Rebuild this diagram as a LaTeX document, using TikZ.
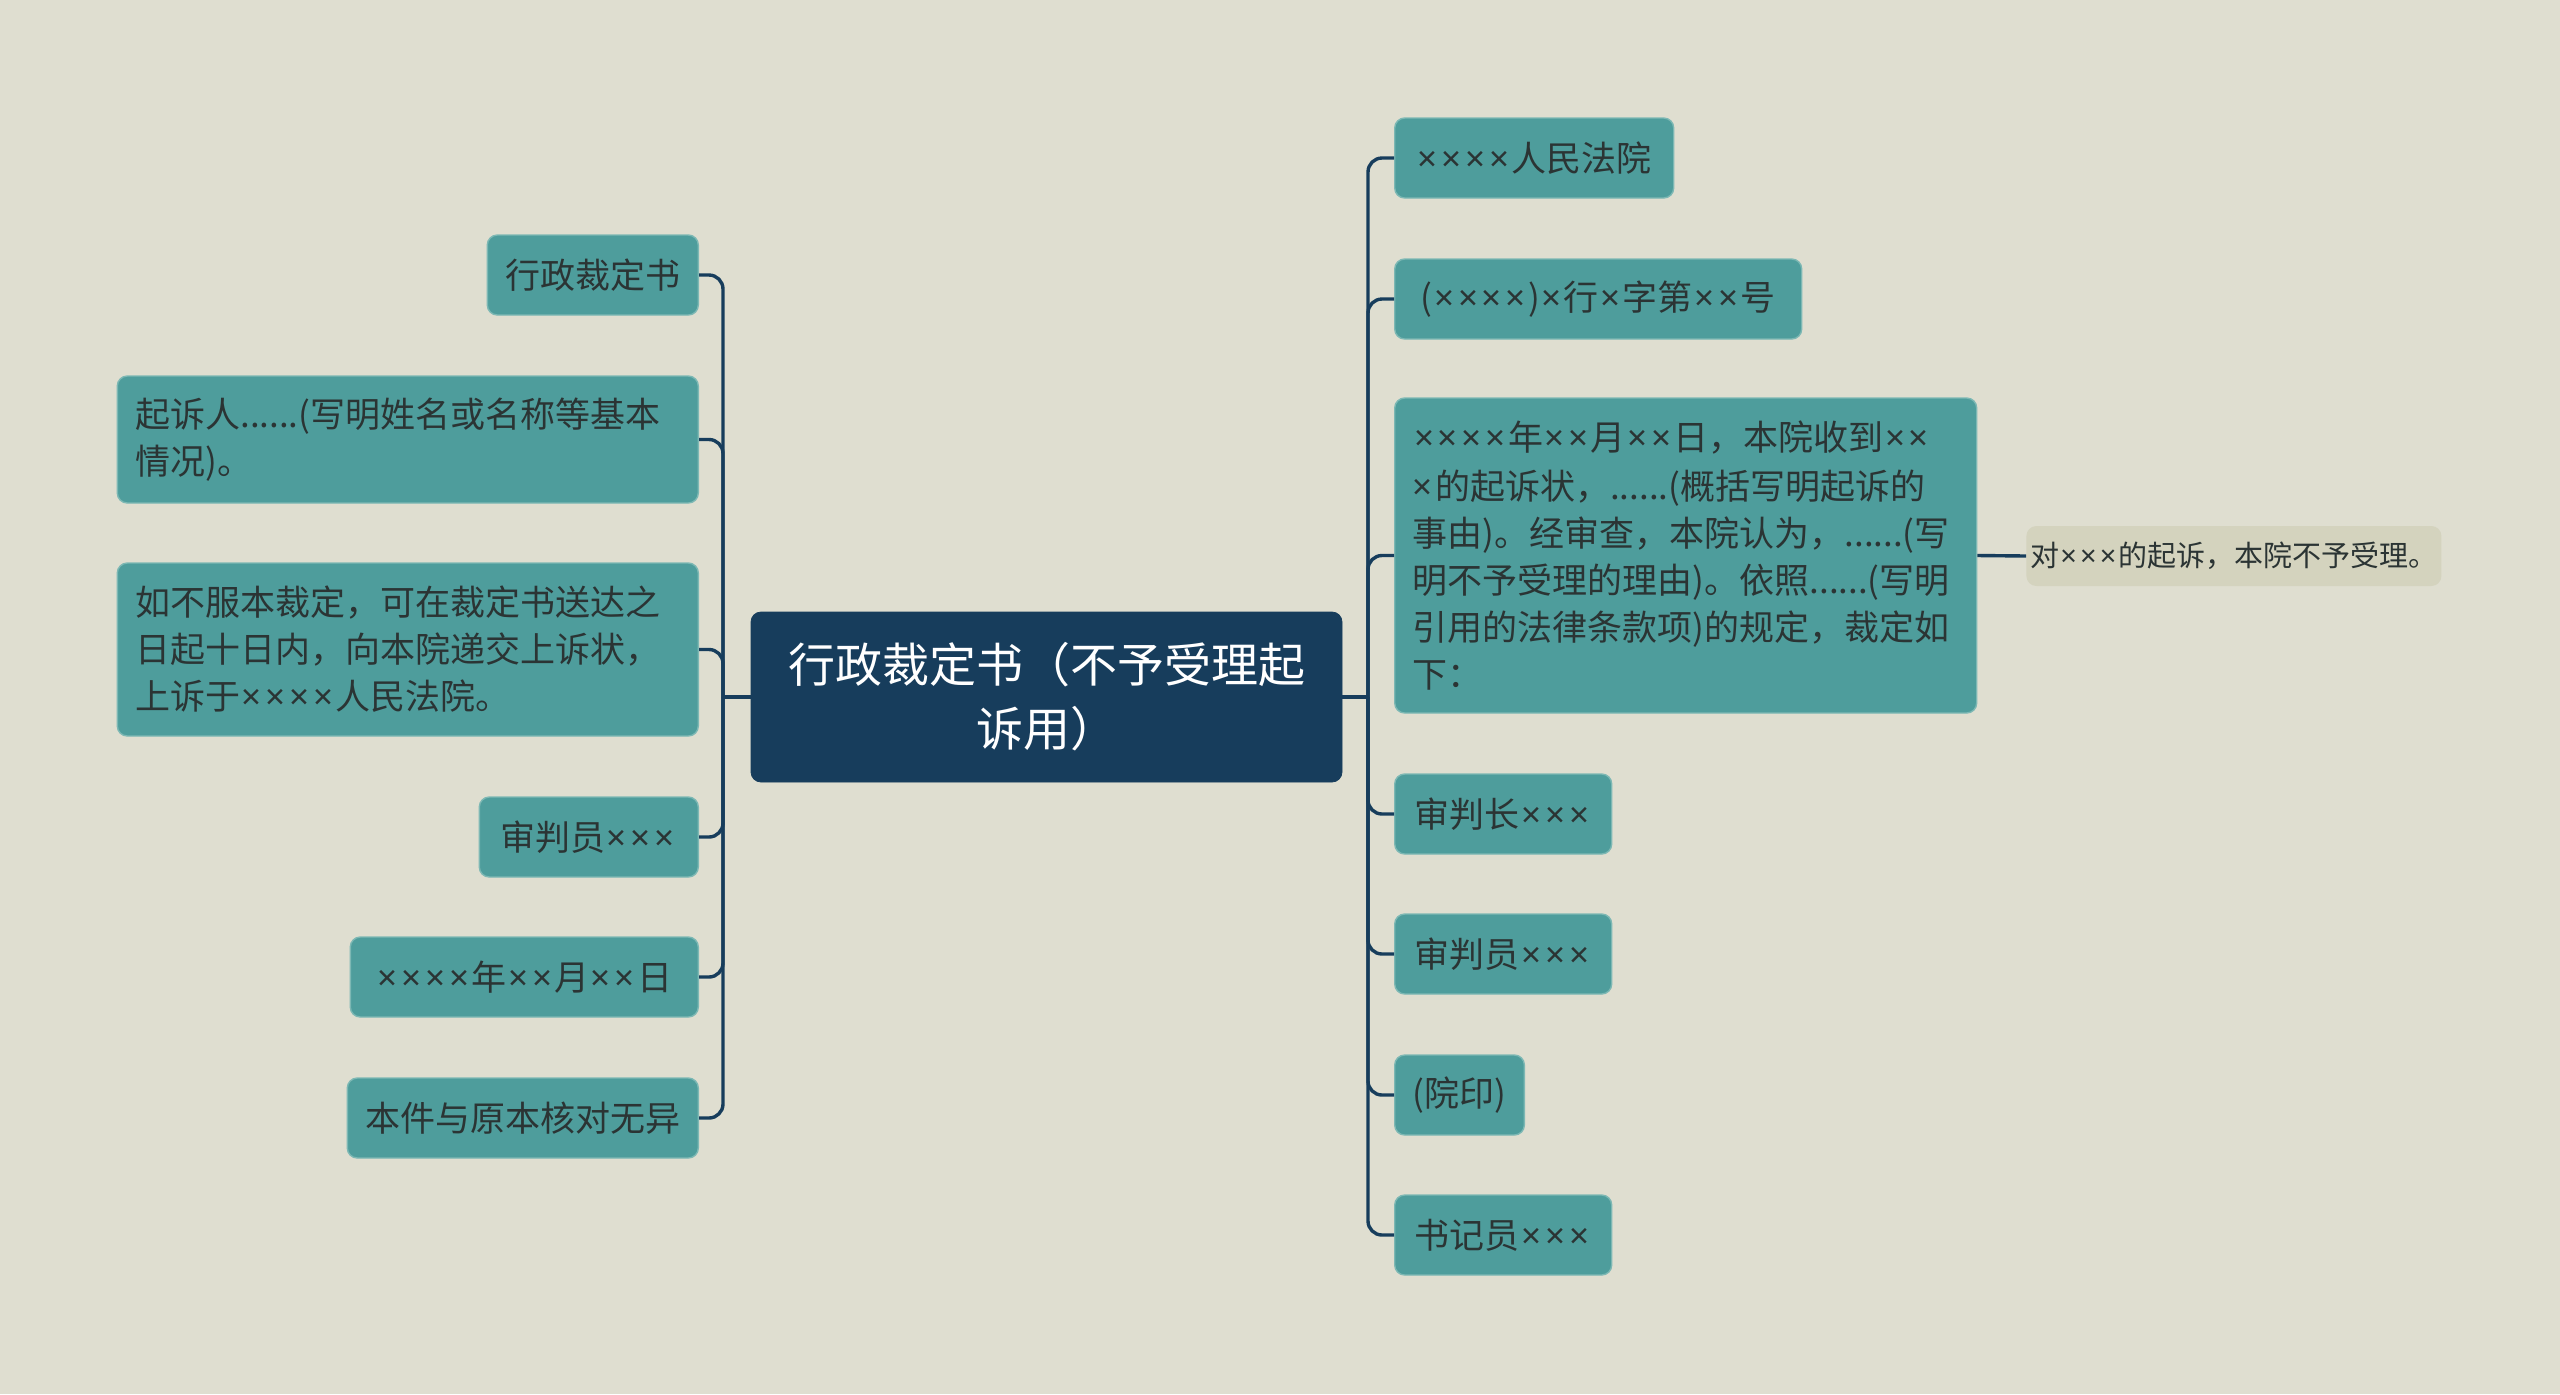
\documentclass[tikz,border=0pt]{standalone}
\usepackage{fontspec}
\newfontfamily\cjk{Noto Sans CJK SC}
\newfontfamily\latinx{Noto Sans}
\newcommand\mx{{\latinx \kern0.04em×\kern0.07em}}
\definecolor{paper}{HTML}{DFDED0}
\definecolor{tealbox}{HTML}{4E9D9C}
\definecolor{tealedge}{HTML}{7DB8B4}
\definecolor{navy}{HTML}{173D5C}
\definecolor{sand}{HTML}{D4D3BE}
\definecolor{ink}{HTML}{2B3434}
\tikzset{
    topic/.style={rectangle, rounded corners=5pt, fill=tealbox, draw=tealedge, line width=0.7pt,
        text=ink, font=\cjk\fontsize{17.5}{23.5}\selectfont, inner xsep=9pt, inner ysep=0pt,
        minimum height=40pt},
    root/.style={rectangle, rounded corners=5pt, fill=navy, draw=navy, text=white,
        font=\cjk\fontsize{23.5}{32}\selectfont, align=center, inner sep=0pt,
        minimum width=295.5pt, minimum height=85pt},
    note/.style={rectangle, rounded corners=5pt, fill=sand, text=ink,
        font=\cjk\fontsize{14.5}{18}\selectfont, inner sep=0pt,
        minimum width=207.5pt, minimum height=30pt},
    link/.style={draw=navy, line width=1.7pt, rounded corners=7pt}
}
\begin{document}
\begin{tikzpicture}[x=0.5pt,y=-0.5pt]
    % Background
    \fill[paper] (0,0) rectangle (2560,1394);
    \useasboundingbox (0,0) rectangle (2560,1394);

    % Define points
    \coordinate (LT) at (723,697);
    \coordinate (RT) at (1368,697);

    % Central topic
    \node[root] (doc) at (1046.5,697) {行政裁定书（不予受理起\\诉用）};

    % Left branches
    \node[topic, anchor=east, minimum width=105.5pt] (title) at (699,275) {行政裁定书};
    \node[topic, anchor=east, minimum height=63.5pt, text width=272.5pt, align=left] (plaintiff) at (699,439.5)
        {起诉人......(写明姓名或名称等基本\\情况)。};
    \node[topic, anchor=east, minimum height=86.5pt, text width=272.5pt, align=left] (appeal) at (699,649.5)
        {如不服本裁定，可在裁定书送达之\\日起十日内，向本院递交上诉状，\\上诉于\mx\mx\mx\mx 人民法院。};
    \node[topic, anchor=east, minimum width=109.5pt] (judgeL) at (699,837) {审判员\mx\mx\mx};
    \node[topic, anchor=east, minimum width=174pt] (dateL) at (699,977) {\mx\mx\mx\mx 年\mx\mx 月\mx\mx 日};
    \node[topic, anchor=east, minimum width=175.5pt] (check) at (699,1118) {本件与原本核对无异};

    % Right branches
    \node[topic, anchor=west, minimum width=139.5pt] (court) at (1394,158) {\mx\mx\mx\mx 人民法院};
    \node[topic, anchor=west, minimum width=203.5pt] (caseno) at (1394,299) {(\mx\mx\mx\mx)\mx 行\mx 字第\mx\mx 号};
    \node[topic, anchor=west, minimum height=157.5pt, text width=273pt, align=left] (body) at (1394,555.5)
        {\mx\mx\mx\mx 年\mx\mx 月\mx\mx 日，本院收到\mx\mx\\\mx 的起诉状，......(概括写明起诉的\\事由)。经审查，本院认为，......(写\\明不予受理的理由)。依照......(写明\\引用的法律条款项)的规定，裁定如\\下：};
    \node[topic, anchor=west, minimum width=108.5pt] (chief) at (1394,814) {审判长\mx\mx\mx};
    \node[topic, anchor=west, minimum width=108.5pt] (judgeR) at (1394,954) {审判员\mx\mx\mx};
    \node[topic, anchor=west, minimum width=64pt] (seal) at (1394,1095) {(院印)};
    \node[topic, anchor=west, minimum width=108.5pt] (clerk) at (1394,1235) {书记员\mx\mx\mx};

    % Ruling
    \node[note, anchor=west] (ruling) at (2026,556) {对\mx\mx\mx 的起诉，本院不予受理。};

    % Draw connectors
    \draw[link] (doc.west) -- (LT);
    \foreach \n in {title,plaintiff,appeal,judgeL,dateL,check}
        \draw[link] (LT) |- (\n.east);
    \draw[link] (doc.east) -- (RT);
    \foreach \n in {court,caseno,body,chief,judgeR,seal,clerk}
        \draw[link] (RT) |- (\n.west);
    \draw[link] (body.east) -- (ruling.west);
\end{tikzpicture}
\end{document}
